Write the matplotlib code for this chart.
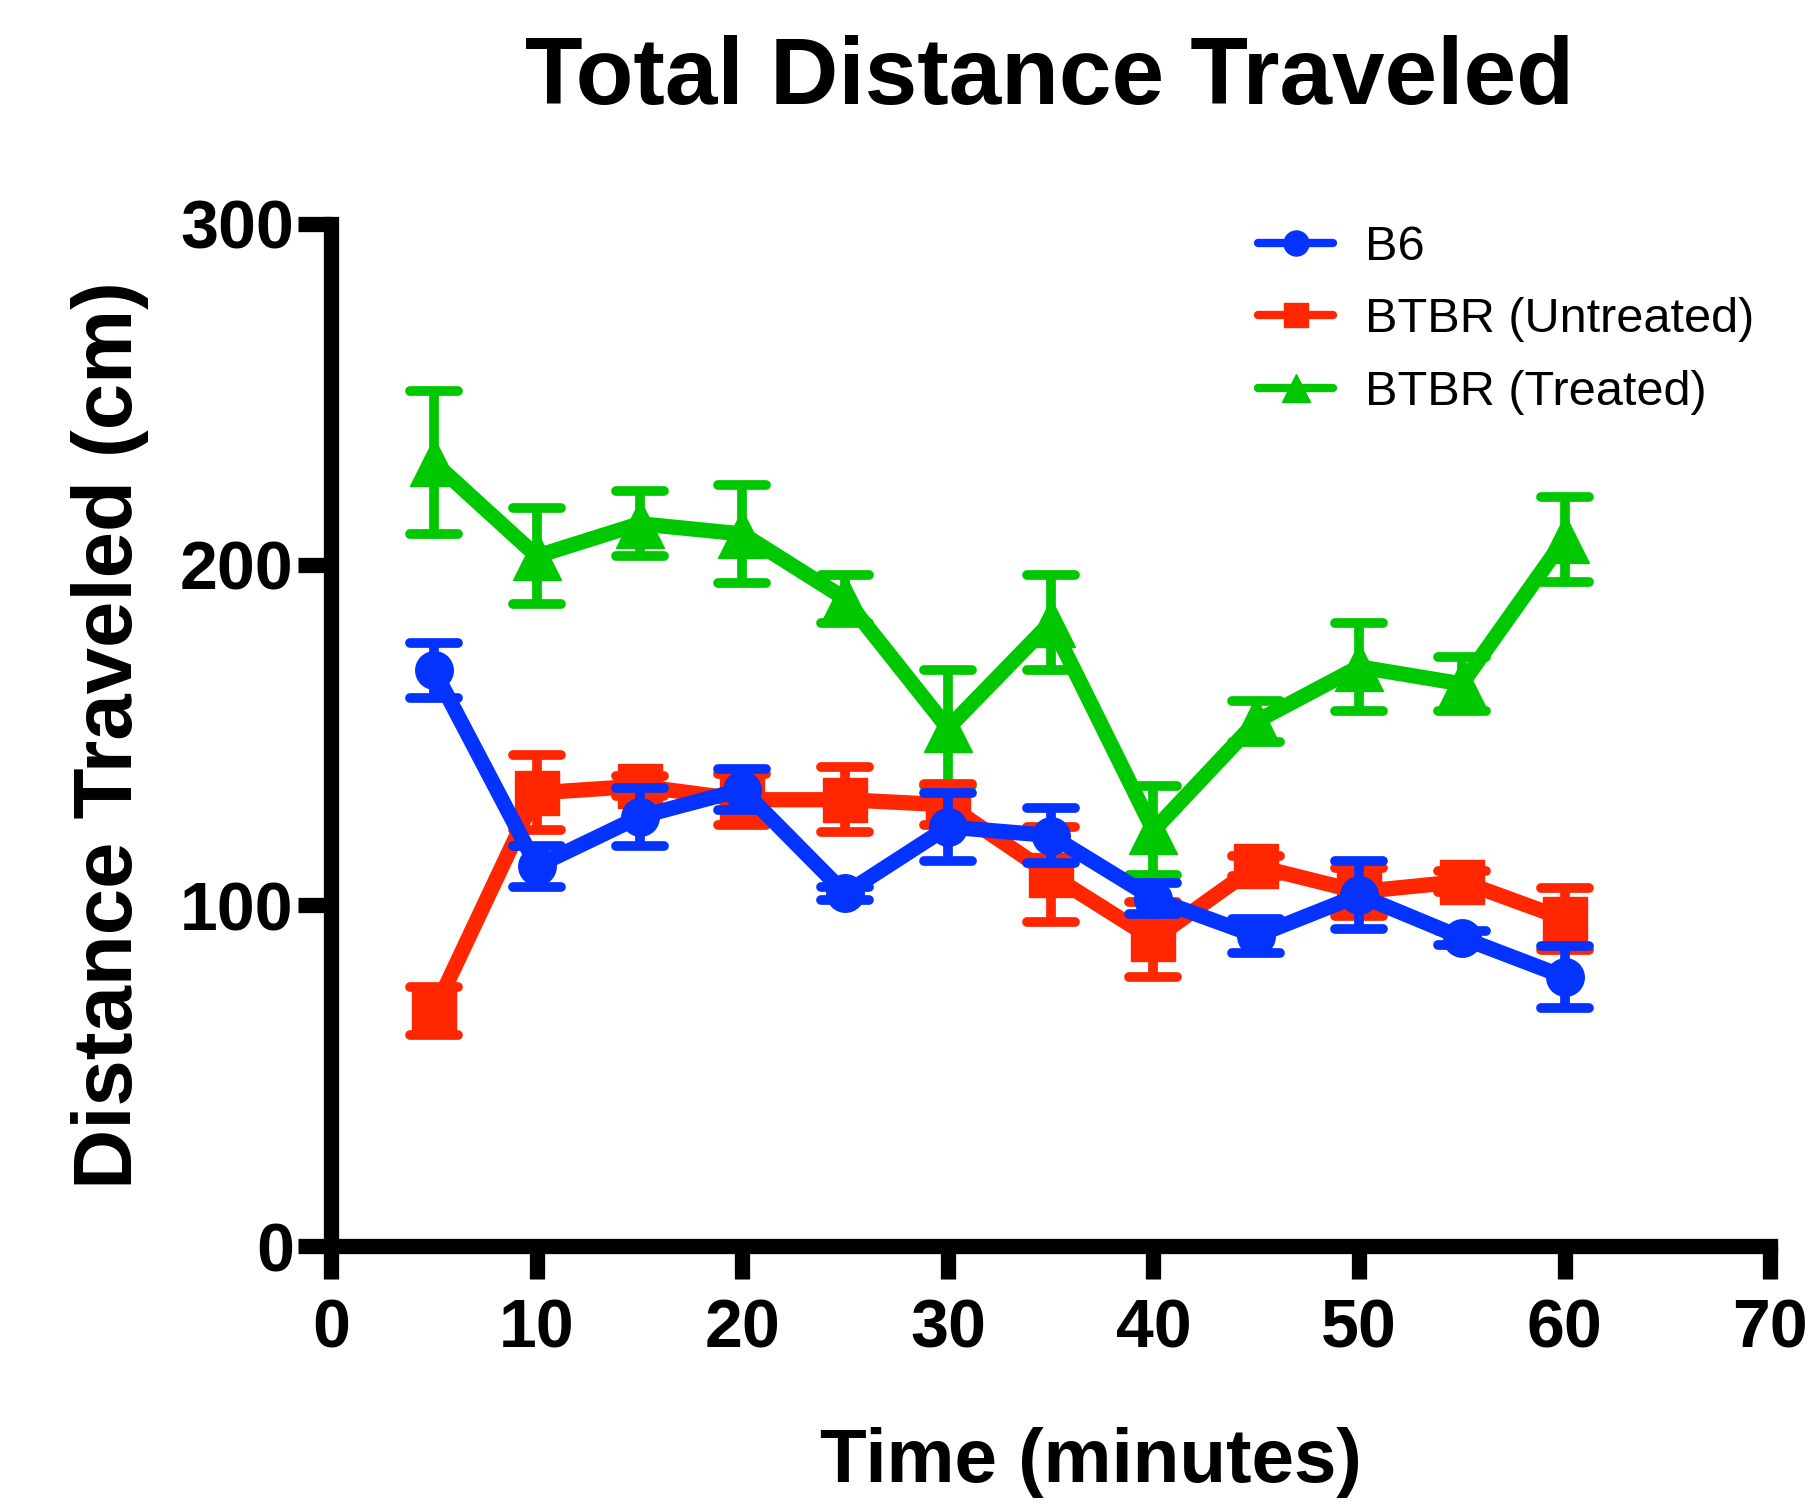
"""
Total distance traveled vs time, three groups with SEM error bars
"""

import numpy as np
import matplotlib.pyplot as plt
from matplotlib.lines import Line2D
from matplotlib.markers import MarkerStyle

# time points (minutes)
time_min = [5, 10, 15, 20, 25, 30, 35, 40, 45, 50, 55, 60]

# B6
b6_mean = [169, 111.5, 126, 134, 103.5, 123, 120.5, 102, 91, 103, 90.5, 79]
b6_err = [8, 6, 8.5, 6, 2, 10, 8, 4.5, 5, 10, 2, 9]

# BTBR untreated
untreated_mean = [69, 133, 135, 131, 131, 129.5, 109, 90, 111.5, 104, 107, 96]
untreated_err = [7, 11, 3, 7.5, 9.5, 6, 14, 11, 3, 7, 3, 9]

# BTBR treated
treated_mean = [230, 202.5, 212, 209, 190, 152, 183, 122, 154, 170, 165, 207.5]
treated_err = [21, 14, 9.5, 14.5, 7, 17, 14, 13, 6, 13, 8, 12.5]

series_names = ["B6", "BTBR (Untreated)", "BTBR (Treated)"]

blue = "#0433FF"
red = "#FF2600"
green = "#00C800"

plt.rcParams['font.family'] = ['Liberation Sans', 'DejaVu Sans']

fig = plt.figure(figsize=(18.1, 15.08), dpi=100)
ax = fig.add_axes([0.183, 0.1737, 0.795, 0.6778])

round_cap = MarkerStyle('_', capstyle='round')

def draw_series(x, y, e, clr, mk, ms, z):
    # line + markers + error bars, GraphPad style
    line, caps, bars = ax.errorbar(x, y, yerr=e, color=clr, ecolor=clr, lw=11,
                                   marker=mk, ms=ms, mec=clr, mfc=clr,
                                   elinewidth=7, capsize=17, capthick=7, zorder=z)
    for c in caps:
        c.set_marker(round_cap)
    for b in bars:
        b.set_capstyle('butt')
    line.set_solid_joinstyle('miter')

draw_series(time_min, treated_mean, treated_err, green, '^', 34, 3)
draw_series(time_min, untreated_mean, untreated_err, red, 's', 32, 4)
draw_series(time_min, b6_mean, b6_err, blue, 'o', 27, 5)

ax.set_xlim(0, 70)
ax.set_ylim(0, 300)
ax.set_xticks(np.arange(0, 71, 10))
ax.set_yticks([0, 100, 200, 300])

for side in ['top', 'right']:
    ax.spines[side].set_visible(False)
for side in ['left', 'bottom']:
    ax.spines[side].set_linewidth(11)
    ax.spines[side].set_capstyle('projecting')

ax.tick_params(axis='both', width=11, length=24, direction='out')
ax.tick_params(axis='y', pad=3)
ax.tick_params(axis='x', pad=13)
for lbl in ax.get_xticklabels() + ax.get_yticklabels():
    lbl.set_fontsize(49)
    lbl.set_fontweight('bold')

ax.set_xlabel("Time (minutes)", fontsize=55, fontweight='bold', labelpad=47)
ax.xaxis.label.set_x(0.528)  # label sits a bit right of centre in the original
ax.set_ylabel("Distance Traveled (cm)", fontsize=60, fontweight='bold', labelpad=22)
fig.suptitle("Total Distance Traveled", fontsize=68, fontweight='bold',
             x=0.58, y=0.977)

# legend handles (smaller markers than the plot)
handles = [
    Line2D([], [], color=blue, lw=6, marker='o', ms=18, solid_capstyle='round'),
    Line2D([], [], color=red, lw=6, marker='s', ms=17, solid_capstyle='round'),
    Line2D([], [], color=green, lw=6, marker='^', ms=20, solid_capstyle='round'),
]
fig.legend(handles, series_names, loc='upper left', bbox_to_anchor=(0.695, 0.851),
           frameon=False, fontsize=35, handlelength=1.55, handletextpad=0.66,
           labelspacing=0.57, borderpad=0, borderaxespad=0)

fig.savefig("out.png", dpi=100)
